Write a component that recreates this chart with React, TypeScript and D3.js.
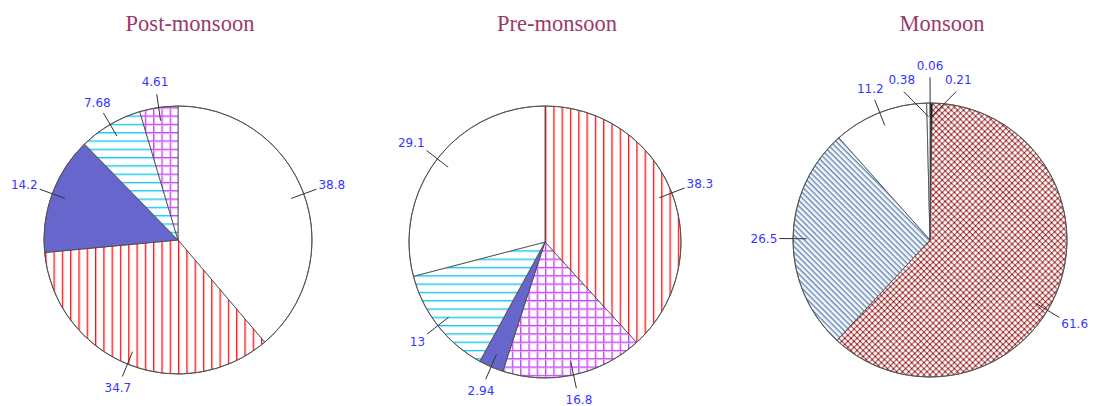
import * as d3 from 'd3'

// values, clockwise from 12 o'clock
const postValues = [38.8, 34.7, 14.2, 7.68, 4.61]
const preValues = [38.3, 16.8, 2.94, 13, 29.1]
const monsoonValues = [0.06, 0.21, 61.6, 26.5, 11.2, 0.38]
const titles = ['Post-monsoon', 'Pre-monsoon', 'Monsoon']

// fills for each slice (styles, kept apart from the values)
const postFills = ['#ffffff', 'url(#vred)', '#6666cc', 'url(#hcyan)', 'url(#grid)']
const preFills = ['url(#vred)', 'url(#grid)', '#6666cc', 'url(#hcyan)', '#ffffff']
const monsoonFills = ['#000000', '#000000', 'url(#xmaroon)', 'url(#dsteel)', '#ffffff', '#ffffff']

const W = 1095
const H = 406
const CHAR_W = 7.1 // rough width of a label glyph at 12px

const pies = [
  { title: titles[0], values: postValues, fills: postFills, cx: 178, cy: 240, r: 134 },
  { title: titles[1], values: preValues, fills: preFills, cx: 545, cy: 242, r: 136 },
  { title: titles[2], values: monsoonValues, fills: monsoonFills, cx: 930, cy: 240, r: 137 },
]

const pie = d3.pie<number>().sort(null).value(d => d)

const norm = (a: number) => (a > Math.PI ? a - 2 * Math.PI : a)

// spread labels of tiny neighbouring slices so they do not sit on each other
const layoutLabels = (arcs: d3.PieArcDatum<number>[]) => {
  const minSep = (10 * Math.PI) / 180
  const items = arcs.map((a, i) => {
    const mid = (a.startAngle + a.endAngle) / 2
    return { i, mid, angle: norm(mid), extra: 0 }
  })
  const sorted = [...items].sort((a, b) => a.angle - b.angle)
  const clusters: (typeof items)[] = []
  sorted.forEach(it => {
    const last = clusters[clusters.length - 1]
    if (last && it.angle - last[last.length - 1].angle < minSep) last.push(it)
    else clusters.push([it])
  })
  clusters.forEach(c => {
    if (c.length < 2) return
    const m = d3.mean(c, d => d.angle) as number
    c.forEach((d, k) => {
      d.angle = m + (k - (c.length - 1) / 2) * minSep
    })
    if (c.length % 2 === 1) c[(c.length - 1) / 2].extra = 12
  })
  return items
}

// where the leader ends and the text goes for a given label angle
const placeLabel = (angle: number, ro: number) => {
  const s = Math.sin(angle)
  const c = Math.cos(angle)
  const ex = s * ro
  const ey = -c * ro
  let anchor = 'middle'
  let tx = ex + s * 12
  if (s > 0.6) {
    anchor = 'start'
    tx = ex + 2
  } else if (s < -0.6) {
    anchor = 'end'
    tx = ex - 2
  }
  return { ex, ey, tx, ty: ey - c * 12, anchor }
}

const Pie = ({ title, values, fills, cx, cy, r }: (typeof pies)[number]) => {
  const arcs = pie(values)
  const arc = d3.arc<d3.PieArcDatum<number>>().innerRadius(0).outerRadius(r)
  const labels = layoutLabels(arcs)

  return (
    <g>
      <text
        x={cx + 12}
        y={31}
        textAnchor="middle"
        fontFamily="'Liberation Serif', serif"
        fontSize={22.5}
        fill="#9b3a6a"
      >
        {title}
      </text>
      <g transform={`translate(${cx},${cy})`}>
        {arcs.map((a, i) => (
          <path key={i} d={arc(a) ?? ''} fill={fills[i]} stroke="#444" strokeWidth={0.8} />
        ))}
        <circle r={r} fill="none" stroke="#555" strokeWidth={1} />
        {labels.map(l => {
          const text = String(values[l.i])
          const tw = text.length * CHAR_W
          const ro = r * 1.1 + l.extra
          let angle = l.angle
          let p = placeLabel(angle, ro)
          // slide the label round the rim while it would run off the page
          const step = (Math.PI / 180) * (Math.cos(angle) > 0 ? -1 : 1)
          for (let k = 0; k < 60; k++) {
            const right = cx + (p.anchor === 'start' ? p.tx + tw : p.anchor === 'end' ? p.tx : p.tx + tw / 2)
            const left = cx + (p.anchor === 'start' ? p.tx : p.anchor === 'end' ? p.tx - tw : p.tx - tw / 2)
            if (right <= W - 4 && left >= 4) break
            angle += Math.sin(angle) > 0 ? step : -step
            p = placeLabel(angle, ro)
          }
          const x0 = Math.sin(angle) * r * 0.9
          const y0 = -Math.cos(angle) * r * 0.9
          const moved = angle !== l.angle
          return (
            <g key={l.i}>
              <line
                x1={moved ? x0 : Math.sin(l.mid) * r * 0.9}
                y1={moved ? y0 : -Math.cos(l.mid) * r * 0.9}
                x2={p.ex}
                y2={p.ey}
                stroke="#333"
                strokeWidth={1}
              />
              <text
                x={p.tx}
                y={p.ty}
                dy="0.35em"
                textAnchor={p.anchor}
                fontFamily="'DejaVu Sans', sans-serif"
                fontSize={12}
                fill="#3535ff"
              >
                {text}
              </text>
            </g>
          )
        })}
      </g>
    </g>
  )
}

export default function App() {
  return (
    <svg
      width={W}
      height={H}
      style={{ position: 'absolute', left: 0, top: 0, background: '#fff' }}
    >
      <defs>
        <pattern id="vred" width={8.3} height={10} patternUnits="userSpaceOnUse">
          <rect width={8.3} height={10} fill="#fff" />
          <line x1={0.5} y1={0} x2={0.5} y2={10} stroke="#ff1010" strokeWidth={1} />
          <line x1={1.5} y1={0} x2={1.5} y2={10} stroke="#ff9a9a" strokeWidth={1} />
        </pattern>
        <pattern id="hcyan" width={10} height={8.3} patternUnits="userSpaceOnUse">
          <rect width={10} height={8.3} fill="#fff" />
          <line x1={0} y1={0.5} x2={10} y2={0.5} stroke="#10c8f0" strokeWidth={1} />
          <line x1={0} y1={1.5} x2={10} y2={1.5} stroke="#90e4f8" strokeWidth={1} />
        </pattern>
        <pattern id="grid" width={8.3} height={8.3} patternUnits="userSpaceOnUse">
          <rect width={8.3} height={8.3} fill="#fff" />
          <line x1={0.5} y1={0} x2={0.5} y2={8.3} stroke="#c040f0" strokeWidth={1} />
          <line x1={1.5} y1={0} x2={1.5} y2={8.3} stroke="#e6a8fa" strokeWidth={1} />
          <line x1={0} y1={0.5} x2={8.3} y2={0.5} stroke="#c040f0" strokeWidth={1} />
          <line x1={0} y1={1.5} x2={8.3} y2={1.5} stroke="#e6a8fa" strokeWidth={1} />
        </pattern>
        <pattern
          id="dsteel"
          width={4}
          height={4}
          patternUnits="userSpaceOnUse"
          patternTransform="rotate(45)"
        >
          <rect width={4} height={4} fill="#fff" />
          <line x1={0} y1={0.6} x2={4} y2={0.6} stroke="#5a7fb0" strokeWidth={1.1} />
          <line x1={0} y1={1.7} x2={4} y2={1.7} stroke="#b0c4de" strokeWidth={1} />
        </pattern>
        <pattern
          id="xmaroon"
          width={4.3}
          height={4.3}
          patternUnits="userSpaceOnUse"
          patternTransform="rotate(45)"
        >
          <rect width={4.3} height={4.3} fill="#fff" />
          <line x1={0} y1={0.6} x2={4.3} y2={0.6} stroke="#b86060" strokeWidth={1.3} />
          <line x1={0.6} y1={0} x2={0.6} y2={4.3} stroke="#b86060" strokeWidth={1.3} />
          <rect x={0} y={0} width={1.3} height={1.3} fill="#8a0000" />
        </pattern>
      </defs>
      {pies.map(p => (
        <Pie key={p.title} {...p} />
      ))}
    </svg>
  )
}
